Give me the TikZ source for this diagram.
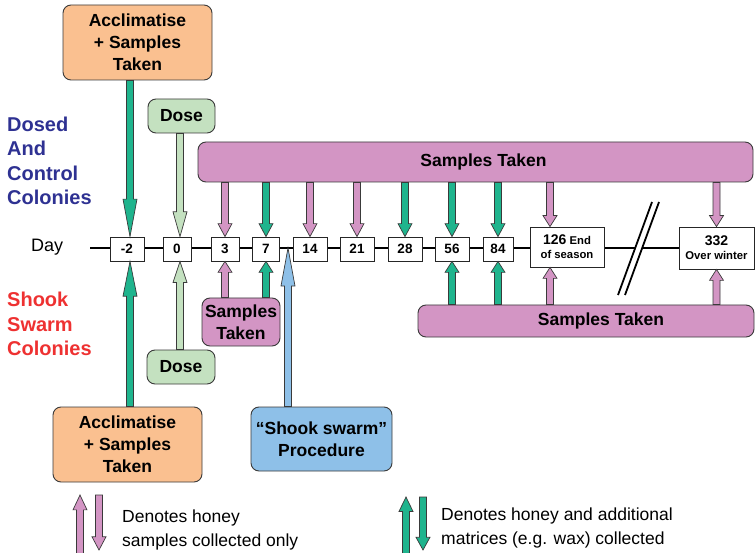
\documentclass[tikz,border=0pt]{standalone}
\usepackage{fontspec}
\setmainfont{Liberation Sans}
\usetikzlibrary{calc}
\definecolor{orfill}{HTML}{FAC090}
\definecolor{grfill}{HTML}{C4E1C0}
\definecolor{pufill}{HTML}{D395C4}
\definecolor{tealc}{HTML}{1FB48D}
\definecolor{blfill}{HTML}{8EC0E8}
\definecolor{dblue}{HTML}{2E3192}
\definecolor{redc}{HTML}{EE3131}
\definecolor{edgec}{HTML}{3A3A3A}
\tikzset{
  rbox/.style={draw=edgec, line width=0.9pt, rounded corners=8pt, align=center, inner sep=0pt,
    font=\fontsize{17.5}{22}\selectfont\bfseries},
  daybox/.style={draw=black!85, fill=white, line width=0.8pt, minimum height=24pt, inner sep=0pt,
    font=\fontsize{13.5}{15}\selectfont\bfseries, align=center},
  bigday/.style={daybox, font=\fontsize{11.3}{14}\selectfont\bfseries},
  blk/.style={draw=edgec, line width=0.7pt, line join=miter,
    to path={let \p1=(\tikztostart), \p2=(\tikztotarget),
      \n1={(\y2-\y1)/abs(\y2-\y1)}, \n2={max(0.24*abs(\y2-\y1),11pt)},
      \n3={\y2-(\n1)*(\n2)} in
      (\x1-3.5pt,\y1) -- (\x1-3.5pt,\n3) -- (\x1-7pt,\n3) -- (\x1,\y2) -- (\x1+7pt,\n3)
      -- (\x1+3.5pt,\n3) -- (\x1+3.5pt,\y1) -- cycle}},
  bartext/.style={font=\fontsize{17.5}{22}\selectfont\bfseries},
  legtext/.style={anchor=west, align=left, inner sep=0pt, font=\fontsize{17.5}{23.5}\selectfont},
}
\begin{document}
\begin{tikzpicture}[x=1pt,y=-1pt]
\useasboundingbox (0,0) rectangle (755,553);

% timeline
\coordinate (tl0) at (90,248);
\coordinate (tl1) at (679,248);
\draw[line width=2.6pt] (tl0) -- (tl1);

% break marks
\coordinate (s1a) at (652,202);
\coordinate (s1b) at (618,295);
\coordinate (s2a) at (659,202);
\coordinate (s2b) at (625,295);
\fill[white] (s1a) -- (s2a) -- (s2b) -- (s1b) -- cycle;
\draw[line width=1.8pt] (s1a) -- (s1b) (s2a) -- (s2b);

% day boxes
\node[daybox, minimum width=34pt] (dm2) at (127,249) {-2};
\node[daybox, minimum width=28pt] (d0) at (177,249) {0};
\node[daybox, minimum width=28pt] (d3) at (225,249) {3};
\node[daybox, minimum width=27pt] (d7) at (266,249) {7};
\node[daybox, minimum width=34pt] (d14) at (310,249) {14};
\node[daybox, minimum width=34pt] (d21) at (357,249) {21};
\node[daybox, minimum width=34pt] (d28) at (405,249) {28};
\node[daybox, minimum width=34pt] (d56) at (452,249) {56};
\node[daybox, minimum width=30pt] (d84) at (498,249) {84};
\node[bigday, minimum width=74pt, minimum height=40pt] (d126) at (567,247)
  {{\fontsize{14}{14}\selectfont 126} End\\of season};
\node[bigday, minimum width=75pt, minimum height=42pt] (d332) at (716.5,248)
  {{\fontsize{14}{14}\selectfont 332}\\Over winter};

% labels
\node[anchor=west, inner sep=0pt, font=\fontsize{18}{20}\selectfont] (day) at (31,247) {Day};
\node[anchor=west, align=left, inner sep=0pt, text=dblue, font=\fontsize{20}{24.5}\selectfont\bfseries]
  (dosed) at (7,161) {Dosed\\And\\Control\\Colonies};
\node[anchor=west, align=left, inner sep=0pt, text=redc, font=\fontsize{20}{24.5}\selectfont\bfseries]
  (shookc) at (7,324) {Shook\\Swarm\\Colonies};

% boxes
\node[rbox, fill=orfill, minimum width=149pt, minimum height=75pt] (acc1) at (137.5,42.5)
  {Acclimatise\\+ Samples\\Taken};
\node[rbox, fill=orfill, minimum width=149pt, minimum height=75pt] (acc2) at (127.5,444.5)
  {Acclimatise\\+ Samples\\Taken};
\node[rbox, fill=grfill, minimum width=67pt, minimum height=34pt] (dose1) at (181.5,116) {Dose};
\node[rbox, fill=grfill, minimum width=68pt, minimum height=34pt] (dose2) at (181,367) {Dose};
\node[rbox, fill=pufill, minimum width=555pt, minimum height=40pt,
  label={[bartext, xshift=8pt]center:Samples Taken}] (bar1) at (475.5,162) {};
\node[rbox, fill=pufill, minimum width=336pt, minimum height=32pt,
  label={[bartext, xshift=15pt]center:Samples Taken}] (bar2) at (586,321) {};
\node[rbox, fill=pufill, minimum width=78pt, minimum height=48pt] (sst) at (241,322) {Samples\\Taken};
\node[rbox, fill=blfill, minimum width=141pt, minimum height=64pt] (shook) at (321.5,439)
  {“Shook swarm”\\Procedure};

% helper x positions
\coordinate (xm2) at (130,248);
\coordinate (x0) at (180,248);
\coordinate (x126) at (550,248);
\coordinate (bt) at (288,248);

% top arrows
\draw[blk, fill=tealc] (acc1.south -| xm2) to (dm2.north);
\draw[blk, fill=grfill] (dose1.south -| x0) to (d0.north);
\draw[blk, fill=pufill] (bar1.south -| d3) to (d3.north);
\draw[blk, fill=tealc] (bar1.south -| d7) to (d7.north);
\draw[blk, fill=pufill] (bar1.south -| d14) to (d14.north);
\draw[blk, fill=pufill] (bar1.south -| d21) to (d21.north);
\draw[blk, fill=tealc] (bar1.south -| d28) to (d28.north);
\draw[blk, fill=tealc] (bar1.south -| d56) to (d56.north);
\draw[blk, fill=tealc] (bar1.south -| d84) to (d84.north);
\draw[blk, fill=pufill] (bar1.south -| x126) to (d126.north);
\draw[blk, fill=pufill] (bar1.south -| d332) to (d332.north);

% bottom arrows
\draw[blk, fill=tealc] (acc2.north -| xm2) to (dm2.south);
\draw[blk, fill=grfill] (dose2.north -| x0) to (d0.south);
\draw[blk, fill=pufill] (sst.north -| d3) to (d3.south);
\draw[blk, fill=tealc] (sst.north -| d7) to (d7.south);
\draw[blk, fill=blfill] (shook.north -| bt) to (bt);
\draw[blk, fill=tealc] (bar2.north -| d56) to (d56.south);
\draw[blk, fill=tealc] (bar2.north -| d84) to (d84.south);
\draw[blk, fill=pufill] (bar2.north -| x126) to (d126.south);
\draw[blk, fill=pufill] (bar2.north -| d332) to (d332.south);

% legend
\coordinate (lpu0) at (80,557);
\coordinate (lpu1) at (80,495);
\coordinate (lpd0) at (99,495);
\coordinate (lpd1) at (99,550);
\coordinate (ltu0) at (406,557);
\coordinate (ltu1) at (406,497);
\coordinate (ltd0) at (423,497);
\coordinate (ltd1) at (423,550);
\draw[blk, fill=pufill] (lpu0) to (lpu1);
\draw[blk, fill=pufill] (lpd0) to (lpd1);
\draw[blk, fill=tealc] (ltu0) to (ltu1);
\draw[blk, fill=tealc] (ltd0) to (ltd1);
\node[legtext] (leg1) at (122,530) {Denotes honey\\samples collected only};
\node[legtext] (leg2) at (441,528) {Denotes honey and additional\\matrices (e.g. wax) collected};
\end{tikzpicture}
\end{document}
